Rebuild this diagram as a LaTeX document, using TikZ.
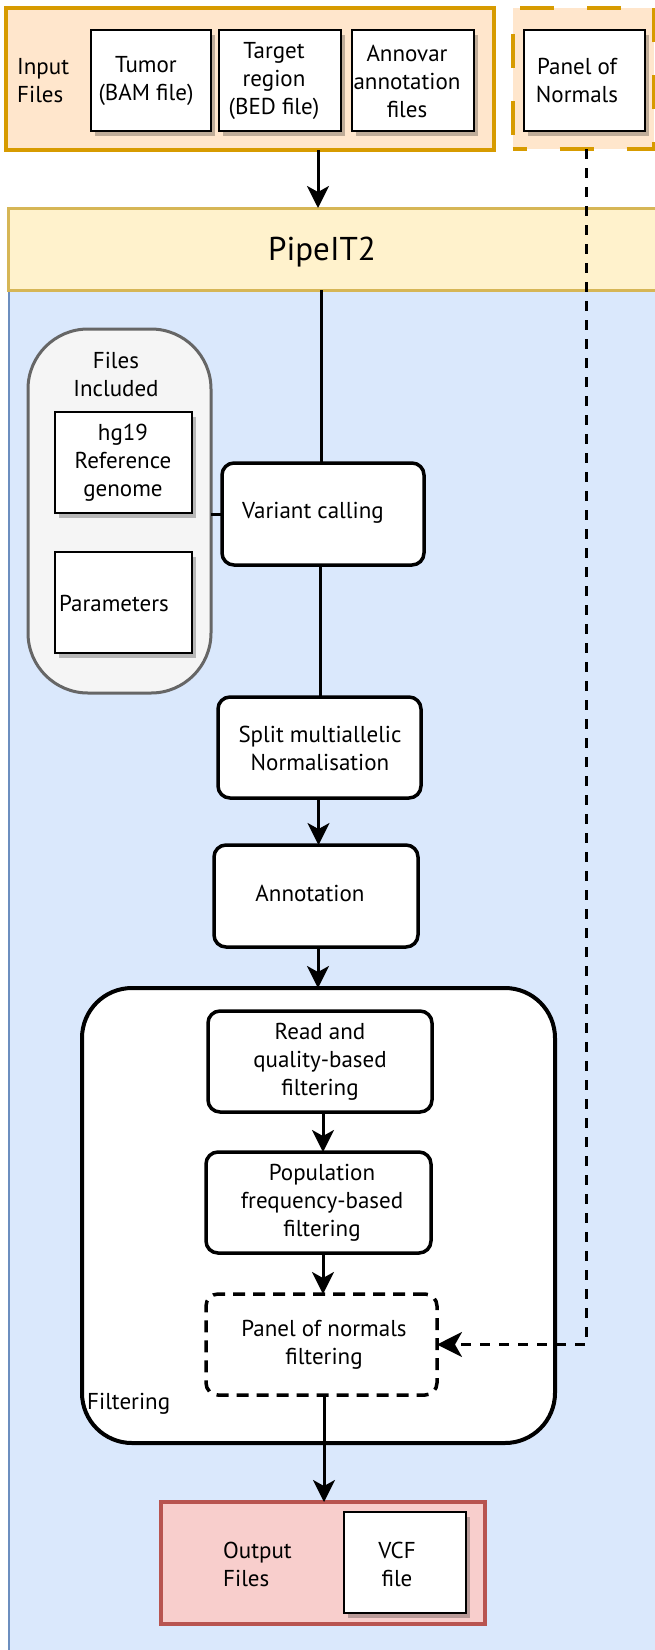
\documentclass[tikz,border=0pt]{standalone}
\usepackage{fontspec}
\setmainfont{PT Sans}
\usetikzlibrary{arrows.meta,shadows}
\definecolor{orfill}{HTML}{FFE6CC}
\definecolor{ordraw}{HTML}{D79B00}
\definecolor{yefill}{HTML}{FFF2CC}
\definecolor{yedraw}{HTML}{D6B656}
\definecolor{blfill}{HTML}{DAE8FC}
\definecolor{bldraw}{HTML}{6C8EBF}
\definecolor{grfill}{HTML}{F5F5F5}
\definecolor{grdraw}{HTML}{666666}
\definecolor{rdfill}{HTML}{F8CECC}
\definecolor{rddraw}{HTML}{B85450}
\tikzset{
  txt/.style={font=\fontsize{23}{28}\selectfont, align=center, inner sep=0pt},
  ltxt/.style={font=\fontsize{23}{28}\selectfont, align=left, inner sep=0pt, anchor=west},
  box/.style={rectangle, inner sep=0pt, outer sep=0pt},
  filebox/.style={box, draw=black, line width=2pt, fill=white,
    drop shadow={shadow xshift=4pt, shadow yshift=-5pt, fill=black, opacity=0.25}},
  procbox/.style={box, draw=black, line width=3.5pt, fill=white, rounded corners=12pt},
  flow/.style={line width=3pt, -{Stealth[length=22pt, width=22pt, inset=6pt]}},
  link/.style={line width=3pt},
  dashflow/.style={line width=3pt, dash pattern=on 10pt off 9pt, -{Stealth[length=25pt, width=25pt, inset=7pt]}},
}
\begin{document}
\begin{tikzpicture}[x=1pt, y=-1pt]
\useasboundingbox (0,0) rectangle (655,1650);
% PipeIT2 container background
\node[box, draw=bldraw, fill=blfill, line width=1.5pt, minimum width=660pt, minimum height=1380pt] (bg) at (339,980) {};
\node[box, draw=yedraw, fill=yefill, line width=3pt, minimum width=656pt, minimum height=82pt] (pipe) at (336,249) {};
\node[inner sep=0pt, font=\fontsize{33}{38}\selectfont] (pipet) at (322,252) {PipeIT2};
% Input files
\node[box, draw=ordraw, fill=orfill, line width=4pt, minimum width=488pt, minimum height=142pt] (input) at (250,79) {};
\node[ltxt] (inputt) at (17,81) {Input\\Files};
\node[filebox, minimum width=120pt, minimum height=101pt] (tumor) at (151,80.5) {};
\node[txt] (tumort) at (146,81) {Tumor\\(BAM file)};
\node[filebox, minimum width=122pt, minimum height=101pt] (target) at (280,80.5) {};
\node[txt] (targett) at (274,81) {Target\\region\\(BED file)};
\node[filebox, minimum width=122pt, minimum height=101pt] (annovar) at (413,80.5) {};
\node[txt] (annovart) at (407,81) {Annovar\\annotation\\files};
% Panel of normals
\node[box, draw=ordraw, fill=orfill, line width=4pt, dash pattern=on 34pt off 33pt, dash phase=20pt, minimum width=141pt, minimum height=141pt] (panel) at (583,78.5) {};
\node[filebox, minimum width=121pt, minimum height=101pt] (panelin) at (584.5,80.5) {};
\node[txt] (panelt) at (577,80) {Panel of\\Normals};
% Files included
\node[box, draw=grdraw, fill=grfill, line width=3pt, rounded corners=60pt, minimum width=183pt, minimum height=364pt] (files) at (119.5,511) {};
\node[txt] (filest) at (116,374) {Files\\Included};
\node[filebox, minimum width=137pt, minimum height=101pt] (hg) at (123.5,462.5) {};
\node[txt] (hgt) at (123,463) {hg19\\Reference\\genome};
\node[filebox, minimum width=137pt, minimum height=101pt] (param) at (123.5,602.5) {};
\node[txt] (paramt) at (114,603) {Parameters};
% process steps
\node[procbox, minimum width=202pt, minimum height=102pt] (variant) at (323,514) {};
\node[txt] (variantt) at (313,513) {Variant calling};
\node[procbox, minimum width=203pt, minimum height=101pt] (split) at (319.5,747.5) {};
\node[txt] (splitt) at (320,748) {Split multiallelic\\Normalisation};
\node[procbox, minimum width=204pt, minimum height=102pt] (annot) at (316,896) {};
\node[txt] (annott) at (310,893) {Annotation};
% filtering container
\node[box, draw=black, fill=white, line width=4pt, rounded corners=50pt, minimum width=473pt, minimum height=455pt] (filt) at (318.5,1215.5) {};
\node[ltxt] (filtt) at (87,1404) {Filtering};
\node[procbox, minimum width=224pt, minimum height=101pt] (read) at (320,1061.5) {};
\node[txt] (readt) at (320,1062) {Read and\\quality-based\\filtering};
\node[procbox, minimum width=225pt, minimum height=101pt] (pop) at (318.5,1202.5) {};
\node[txt] (popt) at (322,1203) {Population\\frequency-based\\filtering};
\node[procbox, dash pattern=on 12pt off 8pt, minimum width=231pt, minimum height=101pt] (pon) at (321.5,1344.5) {};
\node[txt] (pont) at (324,1345) {Panel of normals\\filtering};
% output
\node[box, draw=rddraw, fill=rdfill, line width=3.5pt, minimum width=324pt, minimum height=122pt] (output) at (323,1563) {};
\node[ltxt] (outputt) at (223,1564) {Output\\Files};
\node[filebox, minimum width=122pt, minimum height=101pt] (vcf) at (405,1562.5) {};
\node[txt] (vcft) at (397,1564) {VCF\\file};
% connectors
\draw[flow] ([xshift=68pt]input.south) -- ([xshift=68pt]input.south |- pipe.north);
\draw[link] ([xshift=-2pt]variant.north |- pipe.south) -- ([xshift=-2pt]variant.north);
\draw[link] (files.east |- variant.west) -- (variant.west);
\draw[link] ([xshift=-3pt]variant.south) -- ([xshift=-3pt]variant.south |- split.north);
\draw[flow] ([xshift=-1pt]split.south) -- ([xshift=-1pt]split.south |- annot.north);
\draw[flow] ([xshift=2pt]annot.south) -- ([xshift=2pt]annot.south |- filt.north);
\draw[flow] ([xshift=3pt]read.south) -- ([xshift=3pt]read.south |- pop.north);
\draw[flow] ([xshift=4.5pt]pop.south) -- ([xshift=4.5pt]pop.south |- pon.north);
\draw[flow] ([xshift=2.5pt]pon.south) -- ([xshift=2.5pt]pon.south |- output.north);
\draw[dashflow] ([xshift=3pt]panel.south) -- ([xshift=3pt]panel.south |- pon.east) -- (pon.east);
\end{tikzpicture}
\end{document}
